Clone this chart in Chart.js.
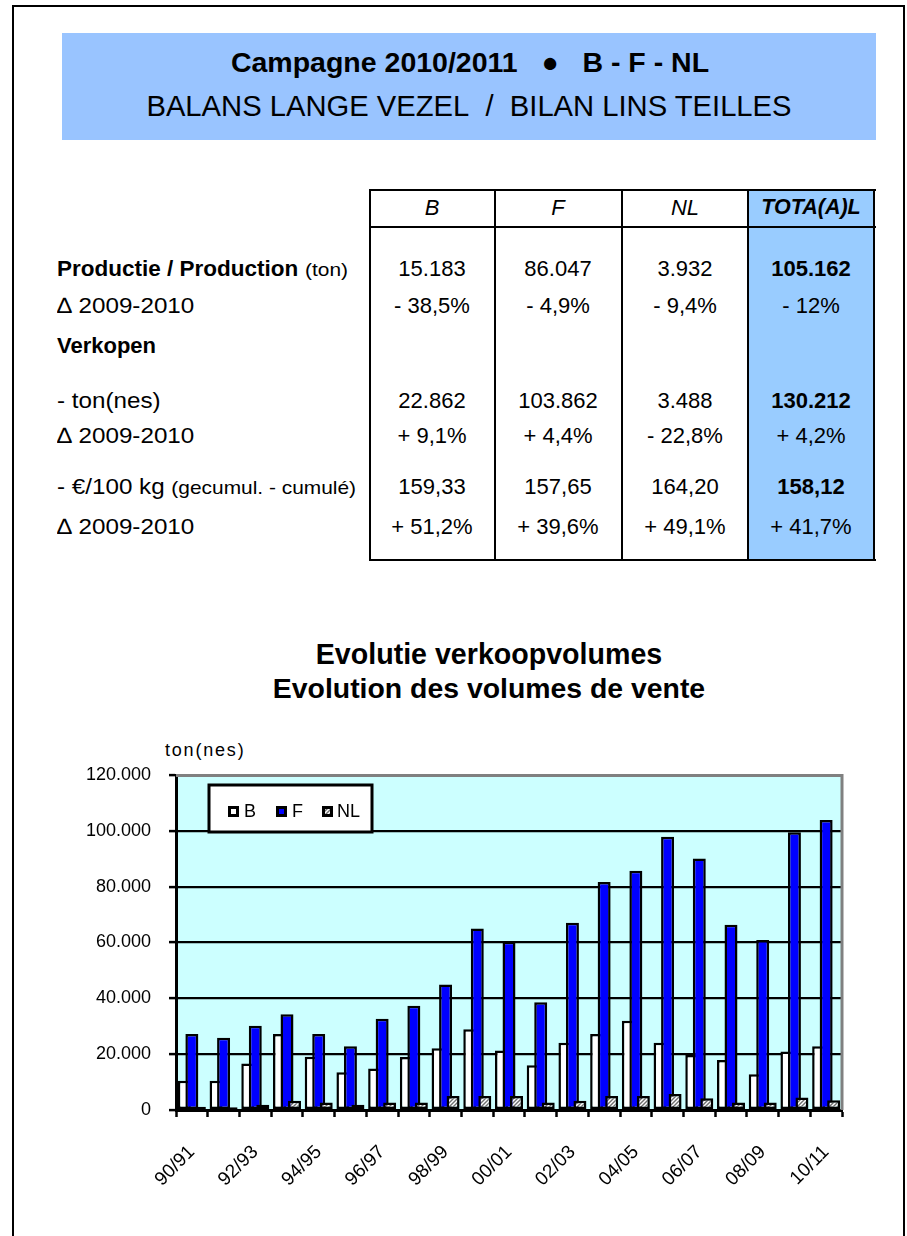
<!DOCTYPE html>
<html>
<head>
<meta charset="utf-8">
<script src="https://cdn.jsdelivr.net/npm/chart.js@4.4.1/dist/chart.umd.min.js"></script>
<style>
html,body{margin:0;padding:0;background:#fff;}
body{width:907px;height:1236px;position:relative;overflow:hidden;font-family:"Liberation Sans",Arial,Helvetica,sans-serif;color:#000;}
.t{position:absolute;white-space:nowrap;line-height:1;}
.c{text-align:center;width:200px;}
.wide{transform:scaleX(1.1);transform-origin:0 50%;}
.wspan{display:inline-block;transform:scaleX(1.1);transform-origin:0 50%;}
.line{position:absolute;background:#000;}
#frame{position:absolute;left:12px;top:5px;width:889px;height:1260px;border:2px solid #000;}
#banner{position:absolute;left:62px;top:33px;width:814px;height:107px;background:#99C4FF;}
#totfill{position:absolute;left:748px;top:190px;width:127px;height:370px;background:#99CCFF;}
#chartwrap{position:absolute;left:0;top:740px;width:907px;height:496px;}
</style>
</head>
<body>
<div id="frame"></div>
<div id="banner"></div>
<div id="totfill"></div>
<div id="texts"></div>
<div id="chartwrap"><canvas id="chart" width="907" height="496"></canvas></div>
<script>
// ---------- data ----------
const categories = ['90/91','91/92','92/93','93/94','94/95','95/96','96/97','97/98','98/99','99/00','00/01','01/02','02/03','03/04','04/05','05/06','06/07','07/08','08/09','09/10','10/11'];
const seriesB  = [10500,10500,16700,27200,19100,13500,14900,19000,22100,28900,21300,16000,24100,27200,32000,24100,19700,17900,12800,20955,22862];
const seriesF  = [27200,25900,30200,34300,27200,22800,32700,37300,45000,65000,60300,38600,67100,81700,85700,97900,90100,66400,60900,99485,103862];
const seriesNL = [1200,1000,1900,3300,2700,1900,2700,2700,5000,5000,5000,2700,3300,5000,5000,5700,4200,2700,2700,4518,3488];
const seriesNames = ['B','F','NL'];
const yTicks = [0,20000,40000,60000,80000,100000,120000];

const tableCols = ['B','F','NL','TOTA(A)L'];
const prodTon = ['15.183','86.047','3.932','105.162'];
const prodDelta = ['- 38,5%','- 4,9%','- 9,4%','- 12%'];
const salesTon = ['22.862','103.862','3.488','130.212'];
const salesTonDelta = ['+ 9,1%','+ 4,4%','- 22,8%','+ 4,2%'];
const salesPrice = ['159,33','157,65','164,20','158,12'];
const salesPriceDelta = ['+ 51,2%','+ 39,6%','+ 49,1%','+ 41,7%'];

// ---------- static text ----------
const T = document.getElementById('texts');
function txt(html, x, y, size, opts) {
  opts = opts || {};
  const d = document.createElement('div');
  d.className = 't' + (opts.center ? ' c' : '') + (opts.wide ? ' wide' : '');
  d.innerHTML = html;
  d.style.fontSize = size + 'px';
  if (opts.bold) d.style.fontWeight = 'bold';
  if (opts.italic) d.style.fontStyle = 'italic';
  if (opts.ls) d.style.letterSpacing = opts.ls + 'px';
  d.style.left = (opts.center ? x - 100 : x) + 'px';
  if (opts.center && opts.w) { d.style.width = opts.w + 'px'; d.style.left = (x - opts.w/2) + 'px'; }
  d.style.top = (y - size * 0.5) + 'px';
  T.appendChild(d);
  return d;
}
function line(x, y, w, h) {
  const d = document.createElement('div');
  d.className = 'line';
  d.style.left = x + 'px'; d.style.top = y + 'px';
  d.style.width = w + 'px'; d.style.height = h + 'px';
  T.appendChild(d);
}
txt('Campagne 2010/2011&nbsp;&nbsp;&nbsp;●&nbsp;&nbsp;&nbsp;B - F - NL', 470, 62, 28.5, {center:true, bold:true, w:800});
txt('BALANS LANGE VEZEL&nbsp;&nbsp;/&nbsp;&nbsp;BILAN LINS TEILLES', 469, 107, 29.2, {center:true, w:800});

// table lines
line(370, 189, 506, 2); line(370, 226, 506, 2); line(370, 559, 506, 2);
line(369, 189, 2, 372); line(494, 189, 2, 372); line(621, 189, 2, 372); line(747, 189, 2, 372); line(873, 189, 2, 372);

const colX = [432, 558, 685, 811];
tableCols.forEach((c,i) => txt(c, colX[i], 208, i === 3 ? 21.5 : 22, {center:true, italic:true, bold: i === 3}));
function row(arr, y, boldTotal) {
  arr.forEach((v,i) => txt(v, colX[i], y, 22, {center:true, bold: boldTotal && i === 3}));
}
row(prodTon, 269, true); row(prodDelta, 306, false);
row(salesTon, 401, true); row(salesTonDelta, 436, false);
row(salesPrice, 487, true); row(salesPriceDelta, 527, false);

txt('<b>Productie / Production</b> <span class="wspan" style="font-size:19px">(ton)</span>', 57, 269, 22.5);
txt('∆ 2009-2010', 57, 306, 22, {wide:true});
txt('<b>Verkopen</b>', 57, 346, 22);
txt('- ton(nes)', 57, 401, 22, {wide:true});
txt('∆ 2009-2010', 57, 436, 22, {wide:true});
txt('- €/100 kg <span style="font-size:19px">(gecumul. - cumulé)</span>', 57, 487, 22, {wide:true});
txt('∆ 2009-2010', 57, 527, 22, {wide:true});

txt('Evolutie verkoopvolumes', 489, 654, 28.6, {center:true, bold:true, w:700});
txt('Evolution des volumes de vente', 489, 688, 28.4, {center:true, bold:true, w:700});
txt('ton(nes)', 165, 750, 18, {ls:1.8});

// ---------- chart ----------
const canvas = document.getElementById('chart');
const ctx = canvas.getContext('2d');
function hatch() {
  const c = document.createElement('canvas');
  c.width = 4; c.height = 4;
  const x = c.getContext('2d');
  x.fillStyle = '#ffffff'; x.fillRect(0,0,4,4);
  x.strokeStyle = '#707070'; x.lineWidth = 1.4;
  x.beginPath();
  x.moveTo(0,4); x.lineTo(4,0);
  x.moveTo(-1,1); x.lineTo(1,-1);
  x.moveTo(3,5); x.lineTo(5,3);
  x.stroke();
  return ctx.createPattern(c, 'repeat');
}
const fmt = v => String(v).replace(/\B(?=(\d{3})+(?!\d))/g, '.');

const plotBg = {
  id: 'plotBg',
  beforeDraw(chart) {
    const a = chart.chartArea, g = chart.ctx;
    g.save(); g.fillStyle = '#CCFFFF';
    g.fillRect(a.left, a.top, a.right - a.left, a.bottom - a.top);
    g.restore();
  },
  afterDraw(chart) {
    const a = chart.chartArea, g = chart.ctx;
    g.save();
    g.strokeStyle = '#808080'; g.lineWidth = 3;
    g.beginPath(); g.moveTo(a.left, a.top + 0.5); g.lineTo(a.right, a.top + 0.5); g.lineTo(a.right, a.bottom); g.stroke();
    g.restore();
  }
};
const seriesOrder = {
  id: 'seriesOrder',
  beforeDatasetsDraw(chart) {
    const metas = chart.getSortedVisibleDatasetMetas();
    for (let i = 0; i < metas.length; i++) chart._drawDataset(metas[i]);
    return false;
  }
};
const legendBox = {
  id: 'legendBox',
  afterDraw(chart) {
    const a = chart.chartArea, g = chart.ctx;
    const x = a.left + 33, y = a.top + 10, w = 163, h = 47;
    g.save();
    g.fillStyle = '#fff'; g.fillRect(x, y, w, h);
    g.lineWidth = 3; g.strokeStyle = '#000'; g.strokeRect(x, y, w, h);
    const mk = [19, 67, 113], tx = [35, 83, 128];
    const cy = y + 26;
    chart.data.datasets.forEach((ds, i) => {
      const mx = x + mk[i];
      g.fillStyle = '#000'; g.fillRect(mx, cy - 5, 11, 11);
      g.fillStyle = ds.backgroundColor; g.fillRect(mx + 3, cy - 2, 5, 5);
      g.fillStyle = '#000';
      g.font = '18px "Liberation Sans", Arial, sans-serif';
      g.textBaseline = 'middle'; g.textAlign = 'left';
      g.fillText(ds.label, x + tx[i], cy + 1);
    });
    g.restore();
  }
};

const common = { borderColor: '#000', borderWidth: 2.5, borderSkipped: false, categoryPercentage: 0.71, barPercentage: 1.73 };
new Chart(ctx, {
  type: 'bar',
  data: {
    labels: categories,
    datasets: [
      Object.assign({ label: seriesNames[0], data: seriesB, backgroundColor: '#FFFFFF' }, common),
      Object.assign({ label: seriesNames[1], data: seriesF, backgroundColor: '#0000FF' }, common),
      Object.assign({ label: seriesNames[2], data: seriesNL, backgroundColor: hatch() }, common)
    ]
  },
  options: {
    responsive: false,
    animation: false,
    events: [],
    layout: { padding: { top: 35, right: 65, left: 0, bottom: 0 } },
    plugins: { legend: { display: false }, title: { display: false }, tooltip: { enabled: false } },
    scales: {
      x: {
        offset: true,
        grid: { display: true, drawOnChartArea: false, drawTicks: true, tickLength: 7, color: '#000', tickWidth: 2.5, offset: true },
        border: { display: true, color: '#000', width: 3 },
        ticks: {
          autoSkip: false, maxRotation: 45, minRotation: 45, padding: 24,
          color: '#000', font: { family: '"Liberation Sans", Arial, sans-serif', size: 19 },
          callback: function (v, i) { return i % 2 === 0 ? categories[i] : ''; }
        },
        afterFit(s) { s.height = 126; }
      },
      y: {
        min: yTicks[0], max: yTicks[yTicks.length - 1],
        afterBuildTicks(s) { s.ticks = yTicks.map(v => ({ value: v })); },
        grid: {
          color: c => (c.tick && c.tick.value === yTicks[yTicks.length - 1]) ? 'rgba(0,0,0,0)' : '#000',
          tickColor: '#000', lineWidth: 2.2, tickWidth: 2.5, tickLength: 7, drawTicks: true
        },
        border: { display: true, color: '#000', width: 3 },
        ticks: {
          padding: 18, color: '#000', font: { family: '"Liberation Sans", Arial, sans-serif', size: 18 },
          callback: v => fmt(v)
        },
        afterFit(s) { s.width = 176; }
      }
    }
  },
  plugins: [plotBg, seriesOrder, legendBox]
});
</script>
</body>
</html>
